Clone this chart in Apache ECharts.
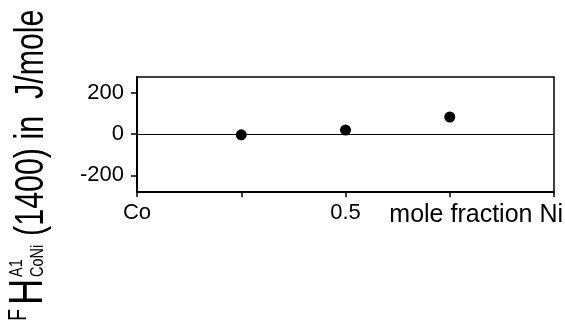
<!DOCTYPE html>
<html>
<head>
<meta charset="utf-8">
<script src="https://cdn.jsdelivr.net/npm/echarts@6/dist/echarts.min.js"></script>
<style>
  html, body { margin: 0; padding: 0; background: #fff; }
  #chartBox { width: 565px; height: 321px; }
</style>
</head>
<body>
<div id="chartBox"></div>
<script>
// mole fraction Ni of each point
const fractionNi = [0.25, 0.5, 0.75]
// FH values in J/mole
const enthalpy = [-4, 19, 82]
// tick positions
const xTicks = [0, 0.25, 0.5, 0.75, 1]
const xLabelValues = [0, 0.5]
const xLabelText = { 0: 'Co', 0.5: '0.5' }
const yTicks = [-200, 0, 200]

const chart = echarts.init(document.getElementById('chartBox'))

const mainFont = '"Liberation Sans", Arial, sans-serif'

let option = {
  animation: false,
  grid: {
    left: 137,
    right: 11,
    top: 77,
    bottom: 129,
    show: true,
    borderColor: '#000',
    borderWidth: 1.5
  },
  xAxis: {
    type: 'value',
    min: 0,
    max: 1,
    axisLine: { onZero: false, lineStyle: { color: '#000', width: 2 } },
    axisTick: {
      customValues: xTicks,
      length: 5,
      lineStyle: { color: '#000', width: 1.5 }
    },
    axisLabel: {
      customValues: xLabelValues,
      margin: 10,
      color: '#000',
      fontSize: 22,
      fontFamily: mainFont,
      formatter: function (v) {
        return xLabelText[v] !== undefined ? xLabelText[v] : ''
      }
    },
    splitLine: { show: false }
  },
  yAxis: {
    type: 'value',
    min: -280,
    max: 275,
    axisLine: { lineStyle: { color: '#000', width: 2 } },
    axisTick: {
      customValues: yTicks,
      length: 6,
      lineStyle: { color: '#000', width: 1.5 }
    },
    axisLabel: {
      customValues: yTicks,
      margin: 13,
      color: '#000',
      fontSize: 22,
      fontFamily: mainFont
    },
    splitLine: { show: false }
  },
  series: [{
    type: 'scatter',
    data: fractionNi.map((x, i) => [x, enthalpy[i]]),
    symbol: 'circle',
    symbolSize: 11,
    itemStyle: { color: '#000', opacity: 1 },
    markLine: {
      silent: true,
      symbol: 'none',
      label: { show: false },
      lineStyle: { color: '#000', width: 1, type: 'solid' },
      data: [{ yAxis: 0 }]
    }
  }],
  graphic: [
    // x axis title at the Ni end
    {
      type: 'text',
      x: 563,
      y: 215,
      style: {
        text: 'mole fraction Ni',
        font: '25px ' + mainFont,
        fill: '#000',
        textAlign: 'right',
        textVerticalAlign: 'middle'
      }
    },
    // y axis title, read from bottom to top
    {
      type: 'group',
      x: 47,
      y: 321,
      rotation: Math.PI / 2,
      scaleX: 0.76,
      children: [
        { type: 'text', x: 0, y: -28, style: { text: 'F', font: '26px ' + mainFont, fill: '#000', textVerticalAlign: 'middle' } },
        { type: 'text', x: 21, y: -18, style: { text: 'H', font: '48px ' + mainFont, fill: '#000', textVerticalAlign: 'middle' } },
        { type: 'text', x: 58, y: -30, style: { text: 'A1', font: '19px ' + mainFont, fill: '#000', textVerticalAlign: 'middle' } },
        { type: 'text', x: 58, y: -9, style: { text: 'CoNi', font: '19px ' + mainFont, fill: '#000', textVerticalAlign: 'middle' } },
        { type: 'text', x: 112, y: -15, style: { text: '(1400) in  J/mole', font: '40px ' + mainFont, fill: '#000', textVerticalAlign: 'middle' } }
      ]
    }
  ]
}

chart.setOption(option)
</script>
</body>
</html>
